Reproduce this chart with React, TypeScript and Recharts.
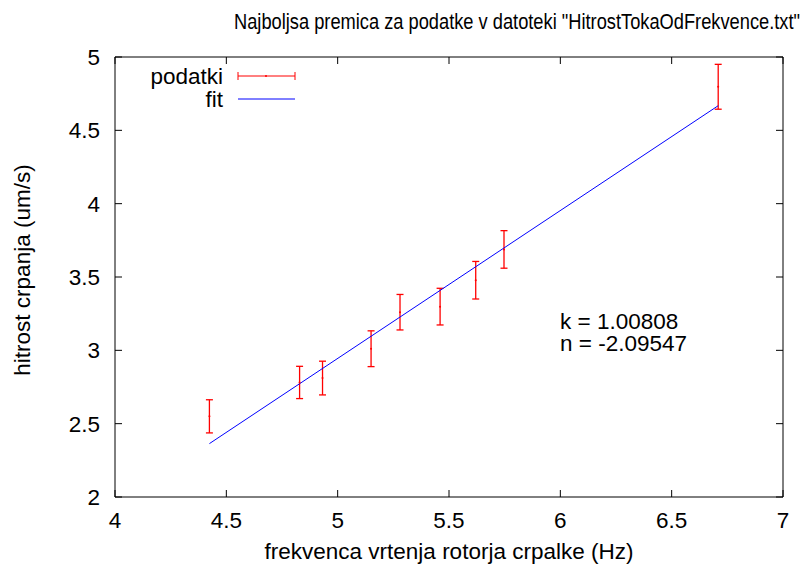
import React from 'react';
import {
    ComposedChart,
    Scatter,
    ErrorBar,
    XAxis,
    YAxis,
    Legend,
    Customized,
} from 'recharts';

// meritve, odčitane s slike
const frekvenca = [4.424, 4.829, 4.932, 5.15, 5.28, 5.46, 5.62, 5.747, 6.709];
const hitrost = [2.55, 2.781, 2.811, 3.011, 3.26, 3.298, 3.478, 3.688, 4.797];
const napaka = [0.113, 0.11, 0.115, 0.122, 0.121, 0.125, 0.128, 0.128, 0.153];

// krajišči premice
const fitX = [4.424, 6.709];
const fitY = [2.364, 4.668];

const xTicks = [4, 4.5, 5, 5.5, 6, 6.5, 7];
const yTicks = [2, 2.5, 3, 3.5, 4, 4.5, 5];

const FONT = '"Liberation Sans", Arial, sans-serif';
const FS = 22.5;
const TICK = 7;

const data = frekvenca.map((x, i) => ({ x, y: hitrost[i], err: napaka[i] }));
const fitData = fitX.map((x, i) => ({ x, y: fitY[i] }));

const BottomTick = (props: any) => {
    const { x, y, payload } = props;
    return (
        <g>
            <line x1={x} y1={y} x2={x} y2={y - TICK} stroke="#000" />
            <text x={x} y={y + 31} textAnchor="middle" fontFamily={FONT} fontSize={FS} fill="#000">
                {payload.value}
            </text>
        </g>
    );
};

const TopTick = (props: any) => {
    const { x, y } = props;
    return <line x1={x} y1={y} x2={x} y2={y + TICK} stroke="#000" />;
};

const LeftTick = (props: any) => {
    const { x, y, payload } = props;
    return (
        <g>
            <line x1={x} y1={y} x2={x + TICK} y2={y} stroke="#000" />
            <text x={x - 15} y={y + 8} textAnchor="end" fontFamily={FONT} fontSize={FS} fill="#000">
                {payload.value}
            </text>
        </g>
    );
};

const RightTick = (props: any) => {
    const { x, y } = props;
    return <line x1={x} y1={y} x2={x - TICK} y2={y} stroke="#000" />;
};

const Dot = (props: any) => <circle cx={props.cx} cy={props.cy} r={1} fill="#ff0000" />;

// legenda kot pri gnuplotu
const renderLegend = () => (
    <svg width={320} height={120}>
        <text x={223} y={84} textAnchor="end" fontFamily={FONT} fontSize={FS} fill="#000">
            podatki
        </text>
        <line x1={238} y1={76} x2={295} y2={76} stroke="#ff0000" />
        <line x1={238} y1={72} x2={238} y2={80} stroke="#ff0000" />
        <line x1={295} y1={72} x2={295} y2={80} stroke="#ff0000" />
        <circle cx={266} cy={76} r={1} fill="#ff0000" />
        <text x={223} y={107} textAnchor="end" fontFamily={FONT} fontSize={FS} fill="#000">
            fit
        </text>
        <line x1={238} y1={99} x2={295} y2={99} stroke="#0000ff" />
    </svg>
);

const Texts = () => (
    <g fontFamily={FONT} fontSize={FS} fill="#000">
        <text x={234} y={29} fontSize={22} textLength={566} lengthAdjust="spacingAndGlyphs">
            Najboljsa premica za podatke v datoteki "HitrostTokaOdFrekvence.txt"
        </text>
        <text x={449} y={559} textAnchor="middle">
            frekvenca vrtenja rotorja crpalke (Hz)
        </text>
        <text x={0} y={0} textAnchor="middle" transform="translate(30 270) rotate(-90)">
            hitrost crpanja (um/s)
        </text>
        <text x={560} y={329}>k = 1.00808</text>
        <text x={560} y={351}>n = -2.09547</text>
    </g>
);

export default function App() {
    return (
        <div style={{ position: 'absolute', left: 0, top: 0, background: '#fff' }}>
            <ComposedChart
                width={806}
                height={567}
                margin={{ top: 56, right: 22, bottom: 0, left: 0 }}
            >
                <XAxis
                    xAxisId="b"
                    type="number"
                    dataKey="x"
                    domain={[4, 7]}
                    ticks={xTicks}
                    height={70}
                    tickSize={0}
                    tickMargin={0}
                    tickLine={false}
                    axisLine={{ stroke: '#000' }}
                    tick={<BottomTick />}
                    allowDataOverflow
                />
                <XAxis
                    xAxisId="t"
                    orientation="top"
                    type="number"
                    dataKey="x"
                    domain={[4, 7]}
                    ticks={xTicks}
                    height={1}
                    tickSize={0}
                    tickMargin={0}
                    tickLine={false}
                    axisLine={{ stroke: '#000' }}
                    tick={<TopTick />}
                    allowDataOverflow
                />
                <YAxis
                    yAxisId="l"
                    type="number"
                    dataKey="y"
                    domain={[2, 5]}
                    ticks={yTicks}
                    width={115}
                    tickSize={0}
                    tickMargin={0}
                    tickLine={false}
                    axisLine={{ stroke: '#000' }}
                    tick={<LeftTick />}
                    allowDataOverflow
                />
                <YAxis
                    yAxisId="r"
                    orientation="right"
                    type="number"
                    dataKey="y"
                    domain={[2, 5]}
                    ticks={yTicks}
                    width={1}
                    tickSize={0}
                    tickMargin={0}
                    tickLine={false}
                    axisLine={{ stroke: '#000' }}
                    tick={<RightTick />}
                    allowDataOverflow
                />
                <Scatter
                    name="fit"
                    xAxisId="b"
                    yAxisId="l"
                    data={fitData}
                    line={{ stroke: '#0000ff', strokeWidth: 1 }}
                    shape={() => null}
                    isAnimationActive={false}
                />
                <Scatter
                    name="podatki"
                    xAxisId="b"
                    yAxisId="l"
                    data={data}
                    shape={<Dot />}
                    isAnimationActive={false}
                >
                    <ErrorBar
                        dataKey="err"
                        direction="y"
                        width={3.5}
                        stroke="#ff0000"
                        strokeWidth={1.3}
                        isAnimationActive={false}
                    />
                </Scatter>
                <Legend
                    layout="horizontal"
                    verticalAlign="middle"
                    content={renderLegend}
                    wrapperStyle={{ left: 0, top: 0, width: 320, height: 120 }}
                />
                <Customized component={<Texts />} />
            </ComposedChart>
        </div>
    );
}
